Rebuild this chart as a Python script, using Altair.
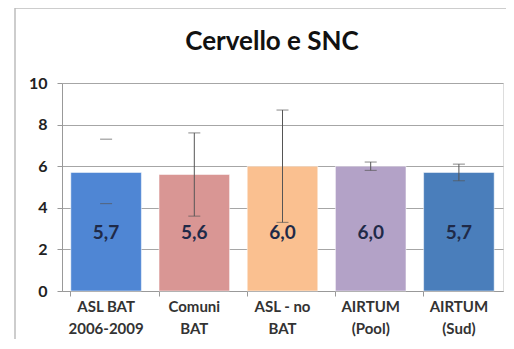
import altair as alt
import pandas as pd

title_text = "Cervello e SNC"
categories = ["ASL BAT|2006-2009", "Comuni|BAT", "ASL - no|BAT", "AIRTUM|(Pool)", "AIRTUM|(Sud)"]
values = [5.7, 5.6, 6.0, 6.0, 5.7]
labels = ["5,7", "5,6", "6,0", "6,0", "5,7"]
lower = [4.2, 3.6, 3.3, 5.8, 5.3]
upper = [7.3, 7.6, 8.7, 6.2, 6.1]
show_line = [False, True, True, True, True]
colors = ["#4F86D4", "#D99694", "#FAC090", "#B3A2C7", "#4A7EBB"]

df = pd.DataFrame({
    "cat": categories, "value": values, "label": labels,
    "lo": lower, "hi": upper, "line": show_line,
})

x = alt.X("cat:N", sort=categories, scale=alt.Scale(paddingInner=0.2, paddingOuter=0.1),
          axis=alt.Axis(title=None, labelAngle=0, labelExpr="split(datum.label, '|')",
                        labelFont="Lato", labelFontWeight="bold", labelFontSize=15,
                        labelColor="#333333", labelLineHeight=22, labelPadding=3,
                        bandPosition=0, tickSize=5, tickColor="#999999",
                        domainColor="#999999", grid=False))
y_scale = alt.Scale(domain=[0, 10])
y_axis = alt.Axis(title=None, values=[0, 2, 4, 6, 8, 10], labelFont="Lato",
                  labelFontWeight="bold", labelFontSize=16, labelColor="#222222",
                  labelPadding=10, tickSize=5, tickColor="#999999", domainColor="#999999",
                  gridColor="#A6A6A6", gridWidth=1)

base = alt.Chart(df)
one = base.transform_filter("datum.cat == 'Comuni|BAT'")

frame = one.mark_rect(
    fill="transparent", stroke="#BDBDBD", strokeWidth=1.5, clip=False
).encode(x=alt.value(-47), x2=alt.value(480), y=alt.value(-75), y2=alt.value(300))

title = one.mark_text(font="Lato", fontSize=26, fontWeight="bold", color="#111111",
                      align="center", baseline="middle").encode(
    x=alt.value(210), y=alt.value(-41), text=alt.value(title_text))

bars = base.mark_bar(stroke="#FFFFFF", strokeOpacity=0.5, strokeWidth=1).encode(
    x=x,
    y=alt.Y("value:Q", scale=y_scale, axis=y_axis),
    color=alt.Color("cat:N", sort=categories, scale=alt.Scale(domain=categories, range=colors), legend=None),
)

rules = base.transform_filter("datum.line").mark_rule(color="#555555", strokeWidth=1).encode(
    x=alt.X("cat:N", sort=categories), y="lo:Q", y2="hi:Q")

caps_lo = base.mark_tick(color="#555555", size=12, thickness=1).encode(
    x=alt.X("cat:N", sort=categories), y="lo:Q")
caps_hi = base.mark_tick(color="#555555", size=12, thickness=1).encode(
    x=alt.X("cat:N", sort=categories), y="hi:Q")

text = base.mark_text(font="Lato", fontWeight="bold", fontSize=19, color="#1F2A48").encode(
    x=alt.X("cat:N", sort=categories), y=alt.datum(2.8), text="label:N")

chart = alt.layer(frame, title, bars, rules, caps_lo, caps_hi, text).properties(
    width=441, height=208,
    autosize=alt.AutoSizeParams(type="none"),
    padding={"left": 54, "top": 75, "right": 3, "bottom": 48},
).configure_view(stroke=None).configure(background="#FFFFFF")

chart.save("out.html", embed_options={"renderer": "svg", "actions": False})
